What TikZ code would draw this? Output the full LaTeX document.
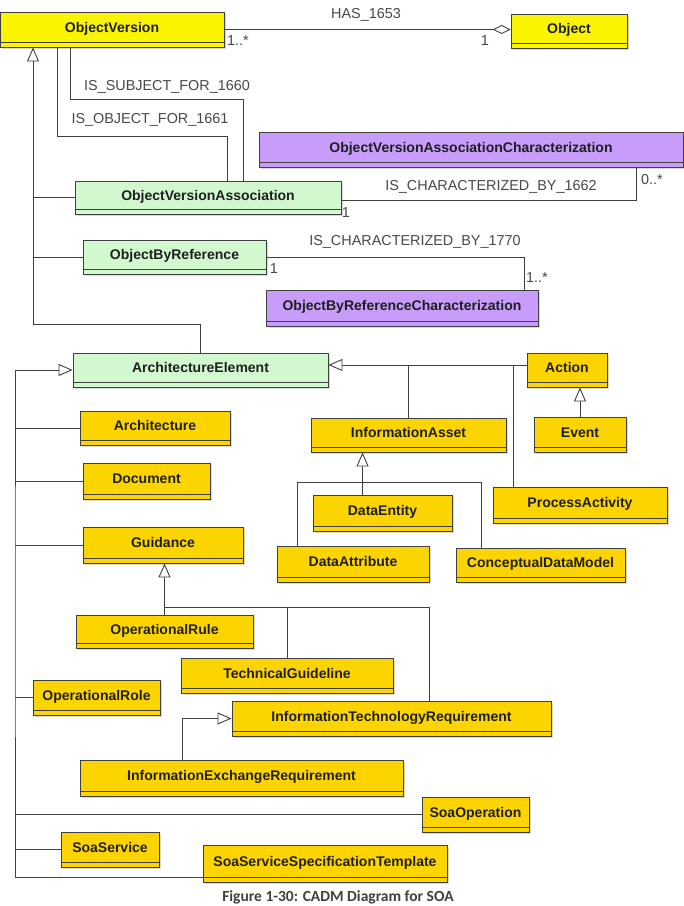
\documentclass[tikz,border=0pt]{standalone}
\usepackage{fontspec}
\setsansfont{Liberation Sans}
\newfontfamily\capfont{Carlito}
\usetikzlibrary{arrows.meta,shadows}

\definecolor{brightyellow}{RGB}{250,244,0}
\definecolor{gold}{RGB}{252,212,0}
\definecolor{mint}{RGB}{210,248,208}
\definecolor{lilac}{RGB}{200,156,250}
\definecolor{edge}{RGB}{64,64,64}
\definecolor{labelgray}{RGB}{72,72,72}

\tikzset{
  box/.style={draw=edge, line width=0.9pt, inner sep=0pt,
    text height=10pt, text depth=5pt, text=black!88,
    font=\sffamily\bfseries\fontsize{14}{16}\selectfont,
    drop shadow={shadow xshift=2pt, shadow yshift=-2pt, opacity=0.3},
    path picture={\draw[edge, line width=0.9pt]
      ([yshift=5pt]path picture bounding box.south west) --
      ([yshift=5pt]path picture bounding box.south east);}},
  conn/.style={draw=edge, line width=0.9pt},
  gen/.style={conn, -{Triangle[open, length=14pt, width=12pt, fill=white]}},
  agg/.style={conn, -{Diamond[open, length=18pt, width=9pt, fill=white]}},
  lab/.style={inner sep=0pt, text=labelgray,
    font=\sffamily\fontsize{14.4}{16}\selectfont},
}

% \umlbox{name}{x1}{y1}{x2}{y2}{fill}{text}
\newcommand{\umlbox}[7]{%
  \node[box, fill=#6, minimum width={#4-#2}, minimum height={#5-#3}]
    (#1) at ({(#2+#4)/2},{(#3+#5)/2}) {#7};}

\begin{document}
\begin{tikzpicture}[x=1pt, y=-1pt]
\useasboundingbox (0,0) rectangle (684,906);
\fill[white] (0,0) rectangle (684,906);
\clip (0,0) rectangle (684,906);

% classes
\umlbox{ov}{0}{12}{224}{47}{brightyellow}{ObjectVersion}
\umlbox{obj}{511}{14}{627}{48}{brightyellow}{Object}
\umlbox{ovac}{259}{132}{683}{167}{lilac}{ObjectVersionAssociationCharacterization}
\umlbox{ova}{75}{181}{341}{214}{mint}{ObjectVersionAssociation}
\umlbox{obr}{83}{240}{266}{274}{mint}{ObjectByReference}
\umlbox{obrc}{266}{290}{538}{326}{lilac}{ObjectByReferenceCharacterization}
\umlbox{ae}{73}{353}{328}{387}{mint}{ArchitectureElement}
\umlbox{act}{527}{353}{607}{387}{gold}{Action}
\umlbox{ev}{534}{417}{626}{452}{gold}{Event}
\umlbox{ia}{311}{418}{506}{452}{gold}{InformationAsset}
\umlbox{arch}{80}{411}{230}{445}{gold}{Architecture}
\umlbox{doc}{83}{463}{210}{499}{gold}{Document}
\umlbox{pa}{493}{487}{667}{523}{gold}{ProcessActivity}
\umlbox{de}{313}{495}{452}{531}{gold}{DataEntity}
\umlbox{gui}{83}{527}{243}{563}{gold}{Guidance}
\umlbox{da}{277}{546}{429}{582}{gold}{DataAttribute}
\umlbox{cdm}{456}{548}{625}{582}{gold}{ConceptualDataModel}
\umlbox{orule}{76}{615}{253}{648}{gold}{OperationalRule}
\umlbox{tg}{181}{658}{393}{693}{gold}{TechnicalGuideline}
\umlbox{orole}{33}{680}{160}{715}{gold}{OperationalRole}
\umlbox{itr}{232}{701}{551}{736}{gold}{InformationTechnologyRequirement}
\umlbox{ier}{80}{760}{403}{796}{gold}{InformationExchangeRequirement}
\umlbox{soaop}{422}{797}{529}{832}{gold}{SoaOperation}
\umlbox{soas}{61}{832}{159}{867}{gold}{SoaService}
\umlbox{ssst}{203}{845}{447}{882}{gold}{SoaServiceSpecificationTemplate}

% bend points
\coordinate (s1) at (70,99);  \coordinate (s2) at (243,99);
\coordinate (o1) at (57,136); \coordinate (o2) at (227,136);
\coordinate (c1) at (636,200);
\coordinate (c2) at (524,257);
\coordinate (t1) at (33,324);
\coordinate (t2) at (15,600);
\coordinate (rb) at ([yshift=5pt]act.west);
\coordinate (pab) at ([xshift=21pt]pa.north west);
\coordinate (deb) at ([xshift=50pt]de.north west);
\coordinate (ib1) at (297,482); \coordinate (ib2) at (481,482);
\coordinate (gb) at (429,607);
\coordinate (ieb) at ([xshift=103pt]ier.north west);

% associations
\draw[agg] (ov.east) -- (obj.west |- ov.east);
\draw[conn] (ov.south -| s1) -- (s1) -- (s2) -- (s2 |- ova.north);
\draw[conn] (ov.south -| o1) -- (o1) -- (o2) -- (o2 |- ova.north);
\draw[conn] (ova.east |- c1) -- (c1) -- (c1 |- ovac.south);
\draw[conn] (obr.east) -- (obr.east -| c2) -- (c2 |- obrc.north);

% generalizations towards ObjectVersion
\draw[gen] (ae.north) |- (t1) -- (t1 |- ov.south);
\draw[conn] (ova.west) -- (ova.west -| t1);
\draw[conn] (obr.west) -- (obr.west -| t1);

% generalizations towards ArchitectureElement
\draw[gen] ([yshift=5pt]ssst.south west) -| (t2) |- (ae.west);
\foreach \n in {arch,doc,gui,orole,soaop,soas}
  \draw[conn] (\n.west) -- (\n.west -| t2);
\draw[gen] (rb) -- ([yshift=5pt]ae.east);
\draw[conn] (ia.north) -- (ia.north |- rb);
\draw[conn] (pab) -- (pab |- rb);
\draw[gen] (ev.north) -- (ev.north |- act.south);

% InformationAsset subtypes
\draw[gen] (deb) -- (deb |- ia.south);
\draw[conn] (da.north -| ib1) |- (ib2) -- (ib2 |- cdm.north);

% Guidance subtypes
\draw[gen] (orule.north) -- (orule.north |- gui.south);
\draw[conn] (orule.north |- gb) -- (gb) -- (gb |- itr.north);
\draw[conn] (tg.north) -- (tg.north |- gb);
\draw[gen] (ieb) |- (itr.west);

% association names and multiplicities
\node[lab] (l1) at (366,15) {HAS\_1653};
\node[lab] (m1) at (238,41) {1..*};
\node[lab] (m2) at (485,41) {1};
\node[lab] (l2) at (167,87) {IS\_SUBJECT\_FOR\_1660};
\node[lab] (l3) at (150,120) {IS\_OBJECT\_FOR\_1661};
\node[lab] (l4) at (491,187) {IS\_CHARACTERIZED\_BY\_1662};
\node[lab] (m3) at (652,180) {0..*};
\node[lab] (m4) at (346,213) {1};
\node[lab] (l5) at (415,242) {IS\_CHARACTERIZED\_BY\_1770};
\node[lab] (m5) at (274,269) {1};
\node[lab] (m6) at (537,278) {1..*};

% caption
\node[anchor=south, inner sep=0pt, text=black!75,
  font=\capfont\bfseries\fontsize{15.5}{17}\selectfont] (caption) at (338,904.5)
  {Figure 1-30: CADM Diagram for SOA};
\end{tikzpicture}
\end{document}
